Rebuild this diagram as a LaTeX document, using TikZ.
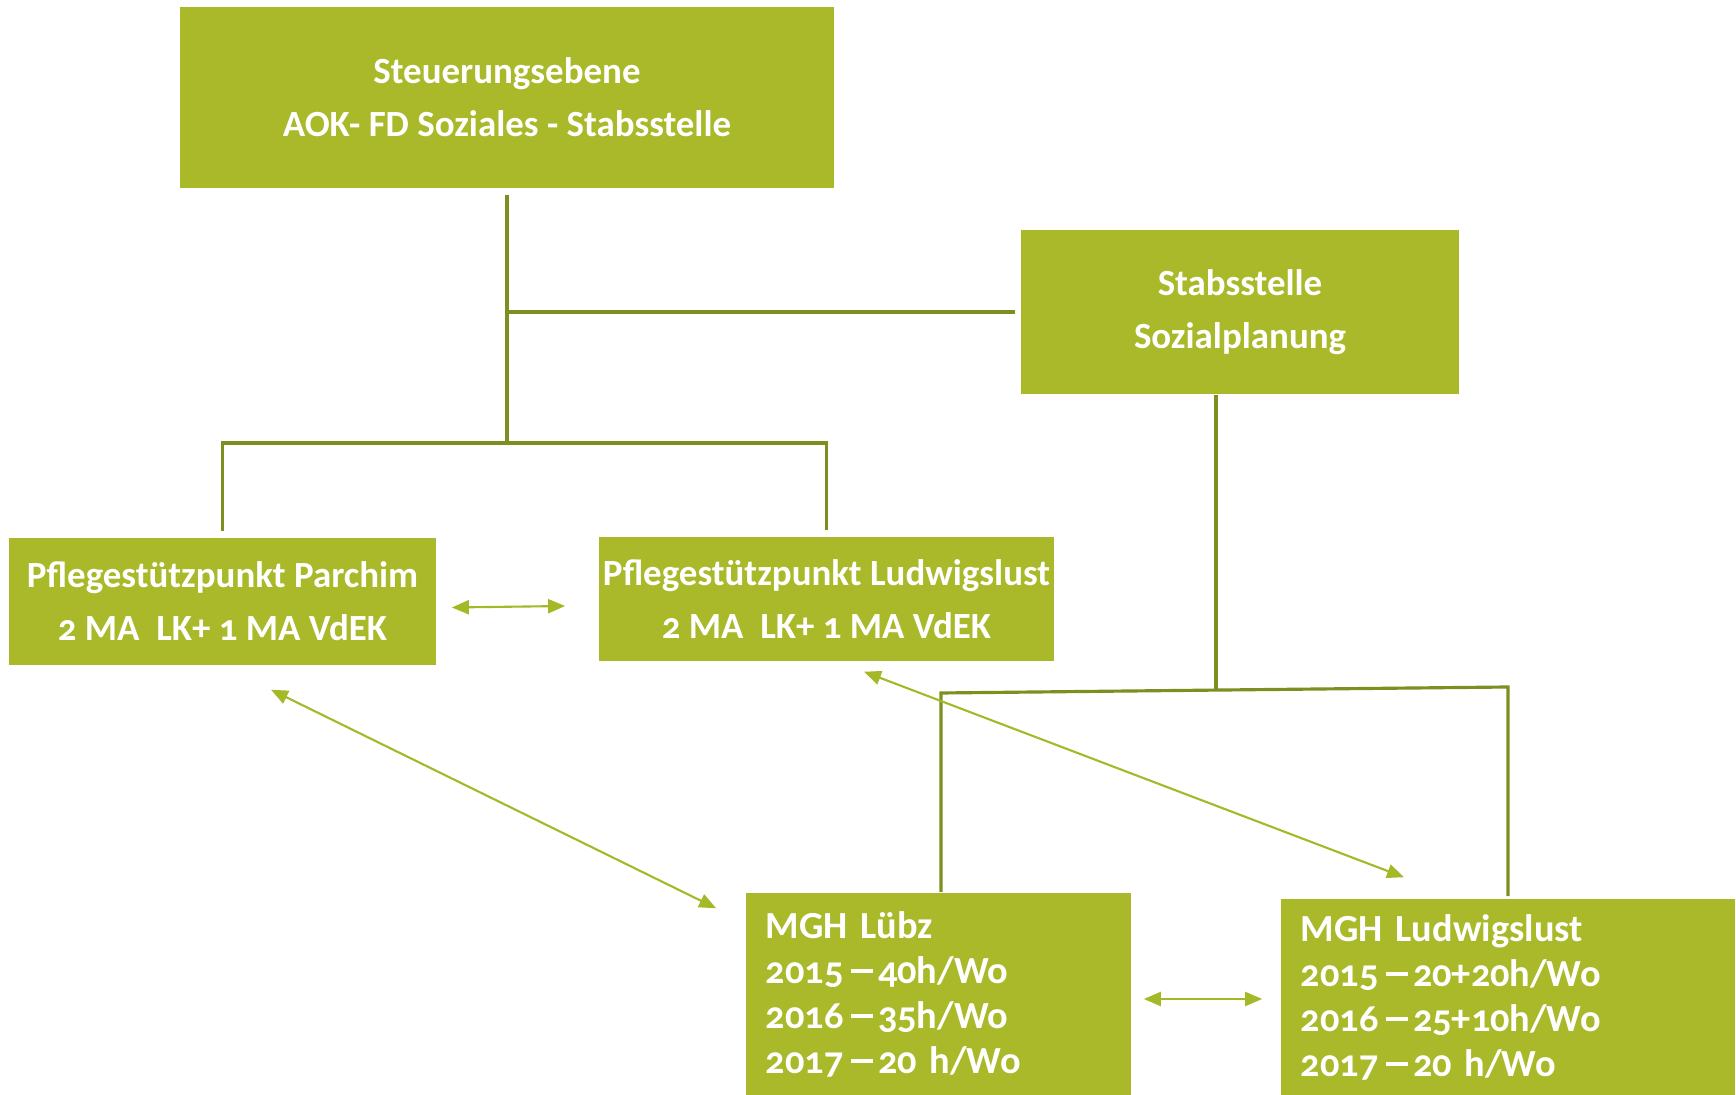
\documentclass[tikz,border=0pt]{standalone}
\usepackage{fontspec}
\setmainfont{Carlito}[Numbers=OldStyle]
\usetikzlibrary{arrows.meta}
\definecolor{boxgreen}{HTML}{A9B92A}
\definecolor{linegreen}{HTML}{7D8F21}
\definecolor{arrowgreen}{HTML}{A5B828}
\newcommand*{\Dash}{\hspace{0.2em}\rule[0.27em]{0.56em}{0.09em}\hspace{0.14em}}

\begin{document}
\begin{tikzpicture}[x=0.01cm,y=-0.01cm,
    box/.style={fill=boxgreen, draw=none, text=white, align=center, inner sep=0pt,
      font=\bfseries\fontsize{10.5}{15}\selectfont},
    mgh/.style={box, align=left, inner xsep=0.2cm,
      font=\bfseries\fontsize{10.9}{12.8}\selectfont},
    conn/.style={draw=linegreen, line width=0.9pt},
    link/.style={draw=arrowgreen, line width=0.6pt,
      {Triangle[length=0.17cm,width=0.14cm]}-{Triangle[length=0.17cm,width=0.14cm]}}]

    \useasboundingbox (0,0) rectangle (1736,1095);

    % boxes
    \node[box, minimum width=6.54cm, minimum height=1.81cm] (steuer) at (507,97.5)
      {Steuerungsebene\\AOK- FD Soziales - Stabsstelle};
    \node[box, minimum width=4.38cm, minimum height=1.64cm] (sozial) at (1240,312)
      {Stabsstelle\\Sozialplanung};
    \node[box, minimum width=4.27cm, minimum height=1.27cm] (parchim) at (222.5,601.5)
      {Pflegestützpunkt Parchim\\2 MA\ \ LK+ 1 MA VdEK};
    \node[box, minimum width=4.55cm, minimum height=1.24cm] (ludwig) at (826.5,599)
      {Pflegestützpunkt Ludwigslust\\2 MA\ \ LK+ 1 MA VdEK};
    \node[mgh, text width=3.45cm, minimum height=2.02cm] (luebz) at (938.5,994)
      {MGH Lübz\\2015\Dash 40h/Wo\\2016\Dash 35h/Wo\\2017\Dash 20 h/Wo};
    \node[mgh, text width=4.14cm, minimum height=1.96cm] (mghlud) at (1508,997)
      {MGH Ludwigslust\\2015\Dash 20+20h/Wo\\2016\Dash 25+10h/Wo\\2017\Dash 20 h/Wo};

    % lines
    \coordinate (hub) at (507,443);
    \coordinate (hubs) at (1216,690);
    \coordinate (l1) at (941,693);
    \coordinate (l2) at (1508,687);
    \draw[conn] ([yshift=-0.06cm]steuer.south) -- (hub);
    \draw[conn] (hub |- sozial.west) -- ([xshift=-0.05cm]sozial.west);
    \draw[conn] ([yshift=0.06cm]parchim.north) |- (hub) -| ([yshift=0.06cm]ludwig.north);
    \draw[conn] (sozial.south -| hubs) -- (hubs);
    \draw[conn] (luebz.north -| l1) -- (l1) -- (l2) -- ([yshift=0.02cm]mghlud.north);

    % arrows
    \draw[link] ([shift={(15,6)}]parchim.east) -- ([shift={(-33,7)}]ludwig.west);
    \draw[link] ([shift={(48.5,24)}]parchim.south) -- ([shift={(-29,16)}]luebz.north west);
    \draw[link] ([shift={(37.5,10)}]ludwig.south) -- ([shift={(-104,-21)}]mghlud.north);
    \draw[link] ([shift={(12,5)}]luebz.east) -- ([shift={(-18,2)}]mghlud.west);
\end{tikzpicture}
\end{document}
